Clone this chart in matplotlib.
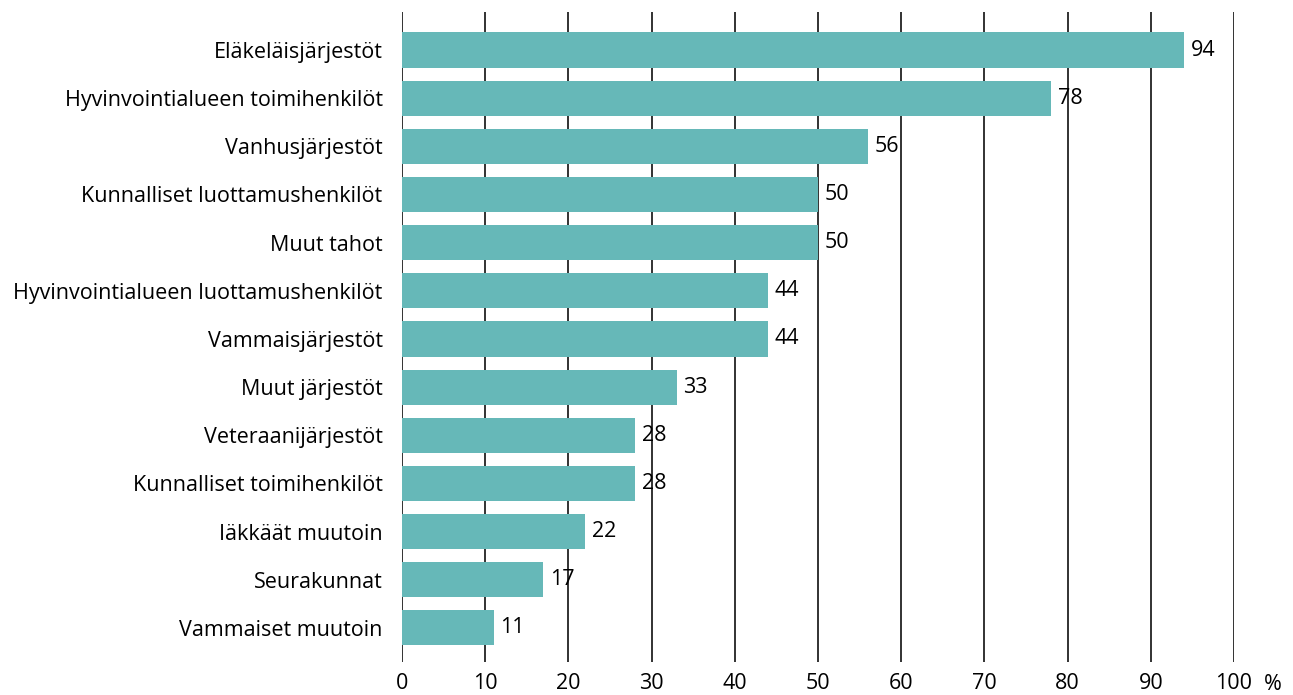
import numpy as np
import matplotlib.pyplot as plt

categories = ['Eläkeläisjärjestöt', 'Hyvinvointialueen toimihenkilöt', 'Vanhusjärjestöt',
              'Kunnalliset luottamushenkilöt', 'Muut tahot', 'Hyvinvointialueen luottamushenkilöt',
              'Vammaisjärjestöt', 'Muut järjestöt', 'Veteraanijärjestöt',
              'Kunnalliset toimihenkilöt', 'Iäkkäät muutoin', 'Seurakunnat', 'Vammaiset muutoin']
values = [94, 78, 56, 50, 50, 44, 44, 33, 28, 28, 22, 17, 11]
xticks = list(range(0, 101, 10))

plt.rcParams['font.family'] = ['Open Sans', 'DejaVu Sans']
fs = 15.5

fig = plt.figure(figsize=(12.93, 6.95), dpi=100)
ax = fig.add_axes([402 / 1293, 1 - 662 / 695, (1234 - 402) / 1293, 650 / 695])

y = np.arange(len(categories))
ax.barh(y, values, height=0.73, color='#66b8b8', zorder=3)
for yi, v in zip(y, values):
    ax.text(v + 0.8, yi, str(v), va='center', ha='left', fontsize=fs, zorder=4)

ax.set_xlim(0, 100)
ax.set_ylim(12.71, -0.79)
ax.set_xticks(xticks)
ax.set_xticklabels([str(t) for t in xticks], fontsize=fs)
ax.set_yticks(y)
ax.set_yticklabels(categories, fontsize=fs)
ax.tick_params(axis='x', length=0, pad=8)
ax.tick_params(axis='y', length=0, pad=14)
ax.grid(axis='x', color='#222222', linewidth=1.3, zorder=0)
for s in ax.spines.values():
    s.set_visible(False)

fig.text(1273 / 1293, 1 - 685 / 695, '%', ha='center', va='center', fontsize=fs)

fig.savefig('out.png', dpi=100)
